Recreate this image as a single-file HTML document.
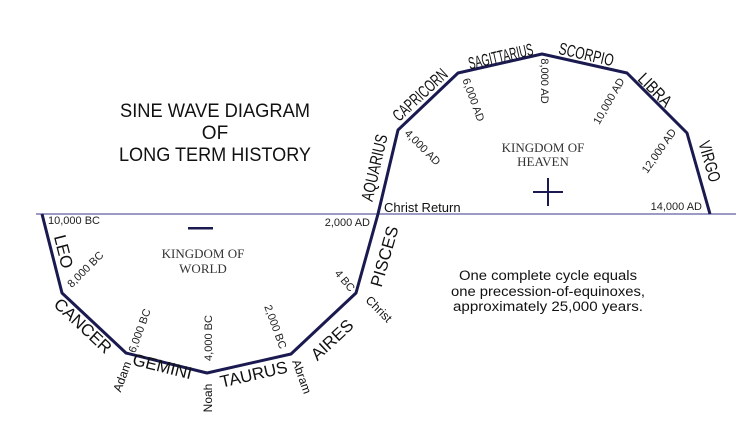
<!DOCTYPE html>
<html><head><meta charset="utf-8"><style>
html,body{margin:0;padding:0;background:#fff;}
svg{display:block;}
.z{font-family:"Liberation Sans",sans-serif;font-size:17px;fill:#111;}
.d{font-family:"Liberation Sans",sans-serif;font-size:11px;fill:#222;}
.n{font-family:"Liberation Sans",sans-serif;font-size:12px;fill:#111;}
.k{font-family:"Liberation Serif",serif;font-size:13px;fill:#333;}
.t{font-family:"Liberation Sans",sans-serif;font-size:19px;fill:#111;}
.o{font-family:"Liberation Sans",sans-serif;font-size:13.5px;fill:#111;}
</style></head><body>
<svg width="750" height="441" viewBox="0 0 750 441" xmlns="http://www.w3.org/2000/svg">
<line x1="36" y1="214" x2="736" y2="214" stroke="#7a7ab0" stroke-width="1.5"/>
<polyline points="42,214 62,293 126,353 207,373 291,354 356,293 378,214 398,130 458,73 542,54 627,73 687,133 710,214" fill="none" stroke="#1a1a50" stroke-width="3" stroke-linejoin="round"/>

<text class="t" x="215" y="117" text-anchor="middle" textLength="190" lengthAdjust="spacingAndGlyphs">SINE WAVE DIAGRAM</text>
<text class="t" x="215" y="139" text-anchor="middle">OF</text>
<text class="t" x="215" y="161" text-anchor="middle" textLength="192" lengthAdjust="spacingAndGlyphs">LONG TERM HISTORY</text>

<text class="k" x="203" y="258" text-anchor="middle">KINGDOM OF</text>
<text class="k" x="203" y="273" text-anchor="middle">WORLD</text>
<rect x="188" y="227" width="25" height="2.5" fill="#1a1a50"/>
<text class="k" x="543" y="152" text-anchor="middle">KINGDOM OF</text>
<text class="k" x="543" y="166" text-anchor="middle">HEAVEN</text>
<rect x="533" y="191" width="30" height="2" fill="#1a1a50"/>
<rect x="547" y="178" width="2" height="28" fill="#1a1a50"/>

<text class="o" x="548" y="280" text-anchor="middle" textLength="178" lengthAdjust="spacingAndGlyphs">One complete cycle equals</text>
<text class="o" x="548" y="296" text-anchor="middle" textLength="194" lengthAdjust="spacingAndGlyphs">one precession-of-equinoxes,</text>
<text class="o" x="548" y="311" text-anchor="middle" textLength="190" lengthAdjust="spacingAndGlyphs">approximately 25,000 years.</text>

<!-- zodiac -->
<text class="z" text-anchor="middle" transform="translate(58,253) rotate(76)">LEO</text>
<text class="z" text-anchor="middle" transform="translate(79,330) rotate(43)">CANCER</text>
<text class="z" text-anchor="middle" transform="translate(161,372) rotate(14)">GEMINI</text>
<text class="z" text-anchor="middle" transform="translate(255,380) rotate(-13)">TAURUS</text>
<text class="z" text-anchor="middle" transform="translate(336,344) rotate(-43)">AIRES</text>
<text class="z" text-anchor="middle" transform="translate(390,258) rotate(-74)">PISCES</text>
<text class="z" text-anchor="middle" transform="translate(380,169) rotate(-77)" textLength="68" lengthAdjust="spacingAndGlyphs">AQUARIUS</text>
<text class="z" text-anchor="middle" transform="translate(424,99) rotate(-43)" textLength="68" lengthAdjust="spacingAndGlyphs">CAPRICORN</text>
<text class="z" text-anchor="middle" transform="translate(502,62) rotate(-13)" textLength="66" lengthAdjust="spacingAndGlyphs">SAGITTARIUS</text>
<text class="z" text-anchor="middle" transform="translate(585,60) rotate(13)" textLength="56" lengthAdjust="spacingAndGlyphs">SCORPIO</text>
<text class="z" text-anchor="middle" transform="translate(651,94) rotate(45)" textLength="40" lengthAdjust="spacingAndGlyphs">LIBRA</text>
<text class="z" text-anchor="middle" transform="translate(704,163) rotate(74)" textLength="42" lengthAdjust="spacingAndGlyphs">VIRGO</text>

<!-- dates -->
<text class="d" x="48" y="224">10,000 BC</text>
<text class="d" text-anchor="middle" transform="translate(88,272) rotate(-45)">8,000 BC</text>
<text class="d" text-anchor="middle" transform="translate(143,332) rotate(-70)">6,000 BC</text>
<text class="d" text-anchor="middle" transform="translate(212,338) rotate(-90)">4,000 BC</text>
<text class="d" text-anchor="middle" transform="translate(272,328) rotate(70)">2,000 BC</text>
<text class="d" text-anchor="middle" transform="translate(342,283) rotate(50)">4 BC</text>
<text class="d" x="370" y="226" text-anchor="end">2,000 AD</text>
<text class="d" text-anchor="middle" transform="translate(420,150) rotate(45)">4,000 AD</text>
<text class="d" text-anchor="middle" transform="translate(470,101) rotate(70)">6,000 AD</text>
<text class="d" text-anchor="middle" transform="translate(541,81) rotate(90)">8,000 AD</text>
<text class="d" text-anchor="middle" transform="translate(612,103) rotate(-60)">10,000 AD</text>
<text class="d" text-anchor="middle" transform="translate(662,153) rotate(-55)">12,000 AD</text>
<text class="d" x="702" y="210" text-anchor="end">14,000 AD</text>

<!-- people -->
<text class="n" text-anchor="middle" transform="translate(126,378) rotate(-70)">Adam</text>
<text class="n" text-anchor="middle" transform="translate(212,398) rotate(-90)">Noah</text>
<text class="n" text-anchor="middle" transform="translate(298,378) rotate(70)">Abram</text>
<text class="n" text-anchor="middle" transform="translate(376,312) rotate(45)">Christ</text>
<text class="n" x="384" y="212" style="font-size:13px">Christ Return</text>
</svg>
</body></html>
